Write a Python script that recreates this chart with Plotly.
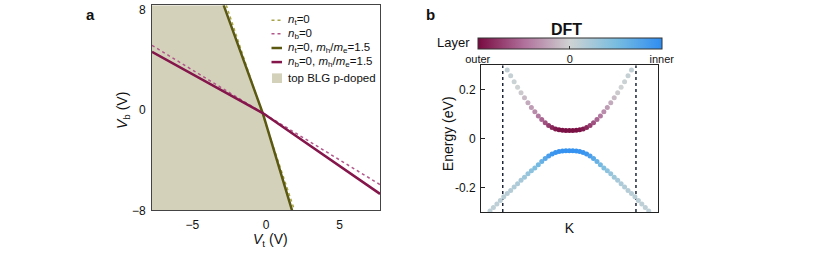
import plotly.graph_objects as go

# ---------------- Panel a data ----------------
nt0_x = [-2.70, 1.94]          # n_t = 0 (dotted)
nt0_y = [8.35, -8.0]
nb0_x = [-7.75, 7.75]          # n_b = 0 (dotted)
nb0_y = [5.15, -5.95]
nt_mass_x = [-2.88, -0.22, 1.77]   # n_t = 0, mh/me = 1.5
nt_mass_y = [8.35, -0.25, -8.0]
nb_mass_x = [-7.75, -0.22, 7.75]   # n_b = 0, mh/me = 1.5
nb_mass_y = [4.64, -0.25, -6.69]
pdoped_x = [-7.75, -2.88, -0.22, 1.77, -7.75]
pdoped_y = [8.35, 8.35, -0.25, -8.0, -8.0]

# ---------------- Panel b data ----------------
k_cond = list(range(-18, 19))
E_cond_half = [0.033, 0.033, 0.034, 0.036, 0.040, 0.046, 0.054, 0.065, 0.078,
               0.093, 0.110, 0.128, 0.147, 0.167, 0.188, 0.210, 0.233, 0.257, 0.281]
L_cond_half = [-0.97, -0.97, -0.97, -0.96, -0.92, -0.85, -0.75, -0.65, -0.55,
               -0.45, -0.36, -0.28, -0.20, -0.12, -0.05, 0.0, 0.03, 0.06, 0.08]
E_cond = E_cond_half[:0:-1] + E_cond_half
L_cond = L_cond_half[:0:-1] + L_cond_half

k_val = list(range(-23, 24))
E_val_half = [-0.050, -0.050, -0.051, -0.053, -0.057, -0.063, -0.071, -0.081,
              -0.094, -0.107, -0.120, -0.131, -0.144, -0.158, -0.170, -0.185,
              -0.198, -0.212, -0.224, -0.238, -0.253, -0.267, -0.282, -0.296]
L_val_half = [0.95, 0.95, 0.95, 0.94, 0.93, 0.90, 0.82, 0.72, 0.62, 0.54, 0.46,
              0.39, 0.33, 0.28, 0.24, 0.20, 0.17, 0.15, 0.13, 0.12, 0.11, 0.10,
              0.10, 0.10]
E_val = E_val_half[:0:-1] + E_val_half
L_val = L_val_half[:0:-1] + L_val_half

k_bounds = [-19.3, 19.3]

legend_labels = ["<i>n</i><sub>t</sub>=0",
                 "<i>n</i><sub>b</sub>=0",
                 "<i>n</i><sub>t</sub>=0, <i>m</i><sub>h</sub>/<i>m</i><sub>e</sub>=1.5",
                 "<i>n</i><sub>b</sub>=0, <i>m</i><sub>h</sub>/<i>m</i><sub>e</sub>=1.5",
                 "top BLG p-doped"]

FONT = "Arial, Liberation Sans, sans-serif"
olive = "#5b5812"
olive_light = "#a7a448"
maroon = "#84164b"
maroon_light = "#b2568a"
fill_col = "#d4d1bb"

colorscale = [[0.0, "#780a40"], [0.25, "#b0709b"], [0.5, "#cfd3d3"],
              [0.75, "#79bde0"], [1.0, "#2f8df2"]]

W, H = 830, 253
fig = go.Figure()

# Panel a traces
fig.add_trace(go.Scatter(x=pdoped_x, y=pdoped_y, fill="toself", fillcolor=fill_col,
                         mode="lines", line=dict(width=0, color=fill_col),
                         showlegend=False, xaxis="x", yaxis="y"))
fig.add_trace(go.Scatter(x=nt0_x, y=nt0_y, mode="lines",
                         line=dict(color=olive_light, width=1.5, dash="dot"),
                         showlegend=False, xaxis="x", yaxis="y"))
fig.add_trace(go.Scatter(x=nb0_x, y=nb0_y, mode="lines",
                         line=dict(color=maroon_light, width=1.5, dash="dot"),
                         showlegend=False, xaxis="x", yaxis="y"))
fig.add_trace(go.Scatter(x=nt_mass_x, y=nt_mass_y, mode="lines",
                         line=dict(color=olive, width=2.5),
                         showlegend=False, xaxis="x", yaxis="y"))
fig.add_trace(go.Scatter(x=nb_mass_x, y=nb_mass_y, mode="lines",
                         line=dict(color=maroon, width=2.5),
                         showlegend=False, xaxis="x", yaxis="y"))

# Panel b traces
for kb in k_bounds:
    fig.add_trace(go.Scatter(x=[kb, kb], y=[-0.3, 0.3], mode="lines",
                             line=dict(color="#1c2538", width=1.5, dash="dot"),
                             showlegend=False, xaxis="x2", yaxis="y2"))

fig.add_trace(go.Scatter(x=k_val, y=E_val, mode="markers",
                         marker=dict(size=5, color=L_val, colorscale=colorscale,
                                     cmin=-1, cmax=1, line=dict(width=0)),
                         showlegend=False, xaxis="x2", yaxis="y2"))
fig.add_trace(go.Scatter(x=k_cond, y=E_cond, mode="markers",
                         marker=dict(size=5, color=L_cond, colorscale=colorscale,
                                     cmin=-1, cmax=1, line=dict(width=0),
                                     showscale=True,
                                     colorbar=dict(orientation="h", x=569.7 / W, xanchor="center",
                                                   y=1 - 37.7 / H, yanchor="top",
                                                   len=184 / W, lenmode="fraction",
                                                   thickness=11, xpad=0, ypad=0,
                                                   outlinewidth=1, outlinecolor="#333",
                                                   tickvals=[-1, 0, 1],
                                                   ticktext=["outer", "0", "inner"],
                                                   ticks="inside", ticklen=3,
                                                   tickcolor="#333",
                                                   ticklabelposition="outside bottom",
                                                   tickfont=dict(size=11, family=FONT, color="#111"))),
                         showlegend=False, xaxis="x2", yaxis="y2"))

# Manual legend (panel a)
leg_y = [19, 33, 47.7, 62.3, 79]
leg_styles = [dict(color=olive_light, width=1.5, dash="dot"),
              dict(color=maroon_light, width=1.5, dash="dot"),
              dict(color=olive, width=2.5),
              dict(color=maroon, width=2.5)]
shapes = []
annotations = []
for i, lab in enumerate(legend_labels):
    yy = 1 - leg_y[i] / H
    if i < 4:
        shapes.append(dict(type="line", xref="paper", yref="paper",
                           x0=271.5 / W, x1=282 / W, y0=yy, y1=yy, line=leg_styles[i]))
    else:
        shapes.append(dict(type="rect", xref="paper", yref="paper",
                           x0=272 / W, x1=282 / W, y0=yy - 5 / H, y1=yy + 5 / H,
                           fillcolor=fill_col, line=dict(width=0)))
    annotations.append(dict(text=lab, x=286 / W, y=yy, xref="paper", yref="paper",
                            showarrow=False, xanchor="left", yanchor="middle",
                            font=dict(size=11.5)))

annotations += [
    dict(text="<b>a</b>", x=90 / W, y=1 - 12.7 / H, xref="paper", yref="paper",
         showarrow=False, font=dict(size=15), xanchor="center", yanchor="middle"),
    dict(text="<b>b</b>", x=430.7 / W, y=1 - 12.7 / H, xref="paper", yref="paper",
         showarrow=False, font=dict(size=15), xanchor="center", yanchor="middle"),
    dict(text="<b>DFT</b>", x=566.7 / W, y=1 - 28 / H, xref="paper", yref="paper",
         showarrow=False, font=dict(size=16), xanchor="center", yanchor="middle"),
    dict(text="Layer", x=472 / W, y=1 - 41.7 / H, xref="paper", yref="paper",
         showarrow=False, font=dict(size=13), xanchor="right", yanchor="middle"),
    dict(text="<i>V</i><sub>t</sub> (V)", x=270 / W, y=1 - 247 / H, xref="paper", yref="paper",
         showarrow=False, font=dict(size=14), xanchor="center", yanchor="middle"),
    dict(text="<i>V</i><sub>b</sub> (V)", x=123 / W, y=1 - 113 / H, xref="paper", yref="paper",
         showarrow=False, font=dict(size=14), xanchor="center", yanchor="middle",
         textangle=-90),
    dict(text="Energy (eV)", x=448 / W, y=1 - 137 / H, xref="paper", yref="paper",
         showarrow=False, font=dict(size=14), xanchor="center", yanchor="middle",
         textangle=-90),
]

fig.update_layout(
    width=W, height=H, margin=dict(l=0, r=0, t=0, b=0),
    paper_bgcolor="white", plot_bgcolor="white",
    font=dict(family=FONT, size=12, color="#111"),
    showlegend=False,
    xaxis=dict(domain=[152 / W, 380 / W], range=[-7.75, 7.75], anchor="y",
               tickvals=[-5, 0, 5], ticks="", showgrid=False, zeroline=False,
               showline=True, mirror=True, linecolor="#444", linewidth=1,
               tickfont=dict(size=12), ticklabelstandoff=3),
    yaxis=dict(domain=[1 - 216 / H, 1 - 3.3 / H], range=[-8, 8.35], anchor="x",
               tickvals=[-8, 0, 8], ticks="", showgrid=False, zeroline=False,
               showline=True, mirror=True, linecolor="#444", linewidth=1,
               tickfont=dict(size=12), ticklabelstandoff=3),
    xaxis2=dict(domain=[481 / W, 657.7 / W], range=[-25.6, 25.6], anchor="y2",
                tickvals=[0], ticktext=["K"], ticks="", showgrid=False, zeroline=False,
                showline=True, mirror=True, linecolor="#222", linewidth=1,
                tickfont=dict(size=14), ticklabelstandoff=3),
    yaxis2=dict(domain=[1 - 217.7 / H, 1 - 65.7 / H], range=[-0.3, 0.3], anchor="x2",
                tickvals=[-0.2, 0, 0.2], ticktext=["-0.2", "0", "0.2"],
                ticks="inside", ticklen=4, tickcolor="#222",
                showgrid=False, zeroline=False,
                showline=True, mirror=True, linecolor="#222", linewidth=1,
                tickfont=dict(size=12), ticklabelstandoff=2),
    shapes=shapes,
    annotations=annotations,
)

fig.write_html("out.html", config={"displayModeBar": False},
               post_script="document.body.style.margin='0';document.body.style.padding='0';")
